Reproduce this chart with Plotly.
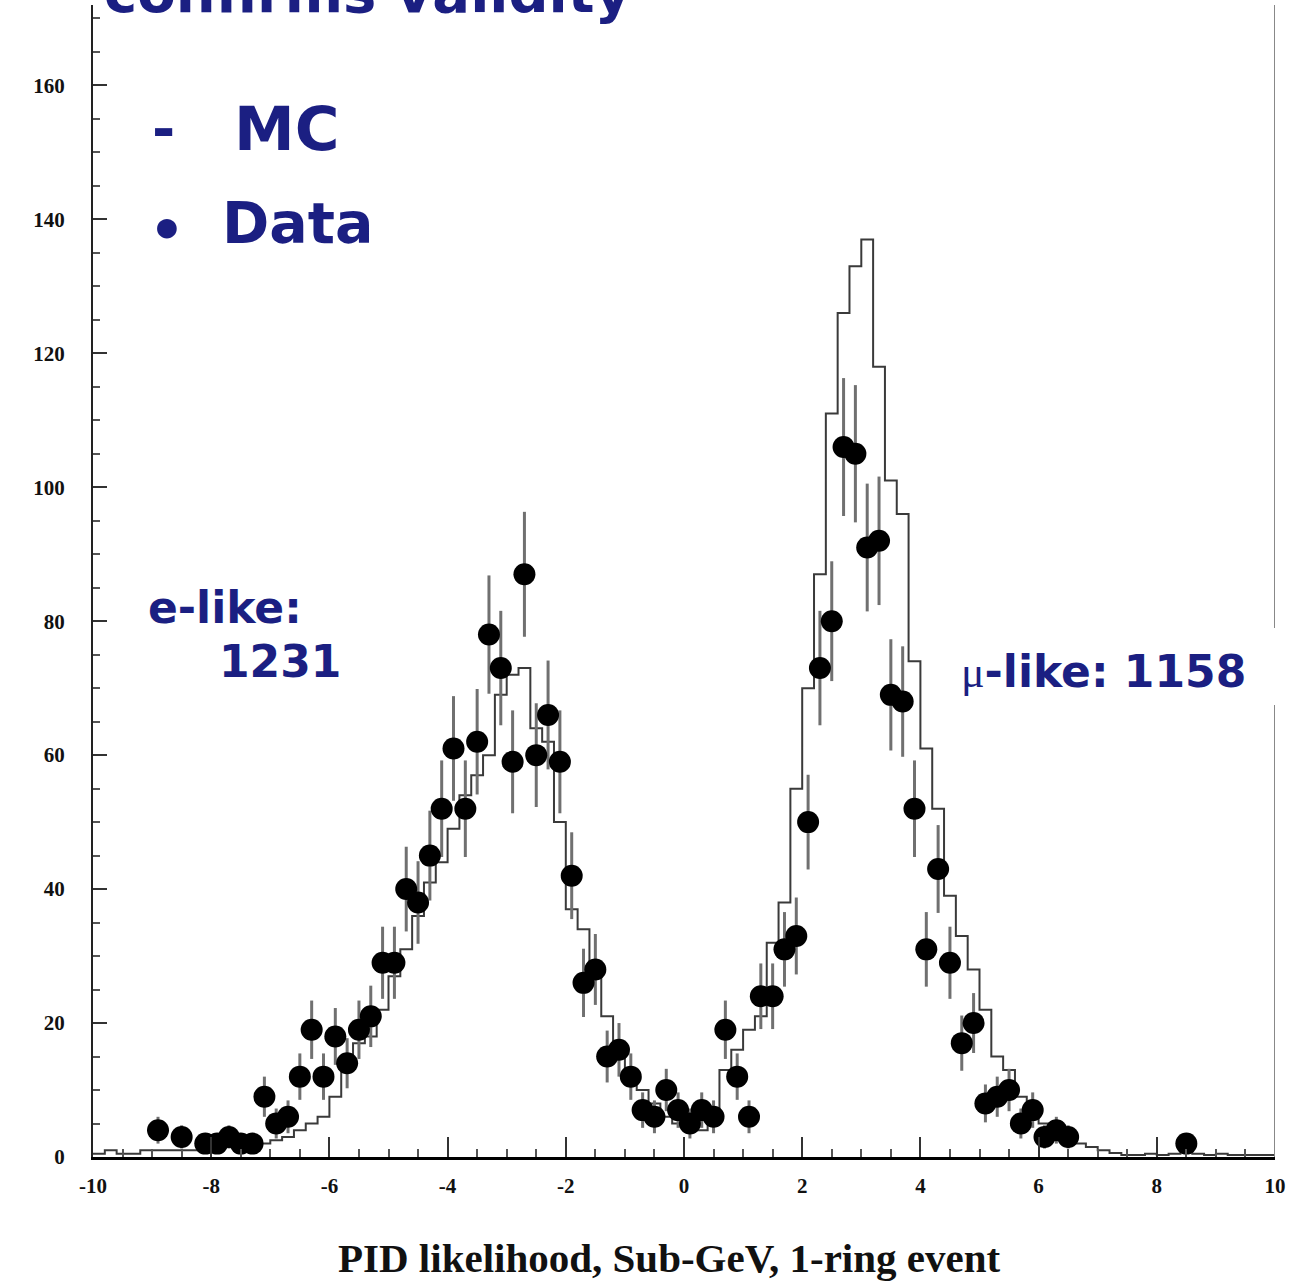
import numpy as np
import plotly.graph_objects as go

# ---------------- data ----------------
# MC histogram: 100 bins of width 0.2 from -10 to 10
mc_counts = [0.5, 1, 0.5, 0.5, 1, 1, 1, 1, 1, 1, 1, 1.5, 1.5, 1.5, 2, 2.5, 3, 4, 5, 6, 9, 14, 17, 18,
             22, 27, 31, 36, 41, 44, 49, 54, 57, 60,
             69, 72, 73, 64, 62, 50, 37, 34, 27, 21,
             17, 13, 10, 8, 6, 5, 4, 4, 6, 13,
             16, 19, 21, 32, 38, 55, 70, 87, 111, 126,
             133, 137, 118, 101, 96, 74, 61, 52, 39, 33,
             28, 22, 15, 13, 9, 7, 5, 4, 3, 2,
             1.5, 1, 0.6, 0.3, 0.3, 0.5, 0.3, 0.5, 0.8, 0.5,
             0.3, 0.5, 0.3, 0.3, 0.3, 0.3]
mc_range = (-10, 10)

# Data points (bin centres, counts)
data_x = [-8.9, -8.5, -8.1, -7.9, -7.7, -7.5, -7.3, -7.1, -6.9, -6.7, -6.5, -6.3, -6.1, -5.9, -5.7,
          -5.5, -5.3, -5.1, -4.9, -4.7, -4.5, -4.3, -4.1, -3.9, -3.7, -3.5, -3.3, -3.1, -2.9, -2.7,
          -2.5, -2.3, -2.1, -1.9, -1.7, -1.5, -1.3, -1.1, -0.9, -0.7, -0.5, -0.3, -0.1, 0.1, 0.3,
          0.5, 0.7, 0.9, 1.1, 1.3, 1.5, 1.7, 1.9, 2.1, 2.3, 2.5, 2.7, 2.9, 3.1, 3.3, 3.5, 3.7,
          3.9, 4.1, 4.3, 4.5, 4.7, 4.9, 5.1, 5.3, 5.5, 5.7, 5.9, 6.1, 6.3, 6.5, 8.5]
data_y = [4, 3, 2, 2, 3, 2, 2, 9, 5, 6, 12, 19, 12, 18, 14,
          19, 21, 29, 29, 40, 38, 45, 52, 61, 52, 62, 78, 73, 59, 87,
          60, 66, 59, 42, 26, 28, 15, 16, 12, 7, 6, 10, 7, 5, 7,
          6, 19, 12, 6, 24, 24, 31, 33, 50, 73, 80, 106, 105, 91, 92, 69, 68,
          52, 31, 43, 29, 17, 20, 8, 9, 10, 5, 7, 3, 4, 3, 2]

x_ticks = [-10, -8, -6, -4, -2, 0, 2, 4, 6, 8, 10]
y_ticks = [0, 20, 40, 60, 80, 100, 120, 140, 160]

# ---------------- figure ----------------
edges = np.linspace(mc_range[0], mc_range[1], len(mc_counts) + 1)
mc_y = list(mc_counts) + [mc_counts[-1]]

fig = go.Figure()
fig.add_trace(go.Scatter(x=edges, y=mc_y, mode="lines", line=dict(shape="hv", color="#3a3a3a", width=2),
                         showlegend=False, hoverinfo="skip"))
err = np.sqrt(np.array(data_y, dtype=float))
fig.add_trace(go.Scatter(x=data_x, y=data_y, mode="markers",
                         marker=dict(color="black", size=22, line=dict(width=0)),
                         error_y=dict(type="data", array=err, color="#707070", thickness=3, width=0),
                         showlegend=False))

tickfont = dict(family="Liberation Serif", size=21, color="#111111", weight="bold")
fig.update_xaxes(range=[-10, 10], showline=True, linecolor="black", linewidth=2.5, mirror=False,
                 ticks="inside", tickvals=x_ticks, ticktext=[str(v) for v in x_ticks],
                 ticklen=20, tickwidth=2, tickcolor="#333",
                 minor=dict(ticks="inside", dtick=0.5, tick0=0, ticklen=8, tickwidth=2, tickcolor="#555"),
                 showgrid=False, zeroline=False, tickfont=tickfont, ticklabelstandoff=8)
fig.update_yaxes(range=[0, 172], showline=True, linecolor="#222", linewidth=2, mirror=False,
                 ticks="inside", tickvals=y_ticks, ticktext=[str(v) for v in y_ticks],
                 ticklen=14, tickwidth=2, tickcolor="#333",
                 minor=dict(ticks="inside", dtick=5, tick0=0, ticklen=7, tickwidth=1.5, tickcolor="#555"),
                 showgrid=False, zeroline=False, tickfont=tickfont, ticklabelstandoff=22)

# right frame line with a gap behind the mu-like label
fig.add_shape(type="line", xref="x", yref="y", x0=10, x1=10, y0=0, y1=67.5,
              line=dict(color="#888888", width=2))
fig.add_shape(type="line", xref="x", yref="y", x0=10, x1=10, y0=79, y1=172,
              line=dict(color="#888888", width=2))

navy = "#1b1f82"
sans = "DejaVu Sans"


def txt(text, x, y, size, xanchor="left", yanchor="middle", color=navy, family=sans, xref="x", yref="y"):
    fig.add_annotation(text=text, x=x, y=y, xref=xref, yref=yref, showarrow=False,
                       xanchor=xanchor, yanchor=yanchor,
                       font=dict(family=family, size=size, color=color, weight="bold"))


txt("confirms validity", 0.008, 0.981, 56, yanchor="bottom", xref="paper", yref="paper")
txt("-", -8.8, 153.5, 56, xanchor="center")
txt("MC", -7.65, 153.5, 61)
txt("•", -8.75, 138.5, 56, xanchor="center")
txt("Data", -7.85, 139.5, 57)
txt("e-like:", -9.1, 82, 44)
txt("1231", -7.9, 74, 44)
txt('<span style="font-family:Liberation Serif;font-weight:normal">μ</span>-like: 1158', 4.65, 72.5, 44)
txt("PID likelihood, Sub-GeV, 1-ring event", 0.487, -0.088, 41, xanchor="center",
    color="#111111", family="Liberation Serif", xref="paper", yref="paper")

fig.update_layout(width=1301, height=1284, margin=dict(l=93, r=26, t=5, b=127),
                  plot_bgcolor="white", paper_bgcolor="white")

fig.write_html("out.html")
